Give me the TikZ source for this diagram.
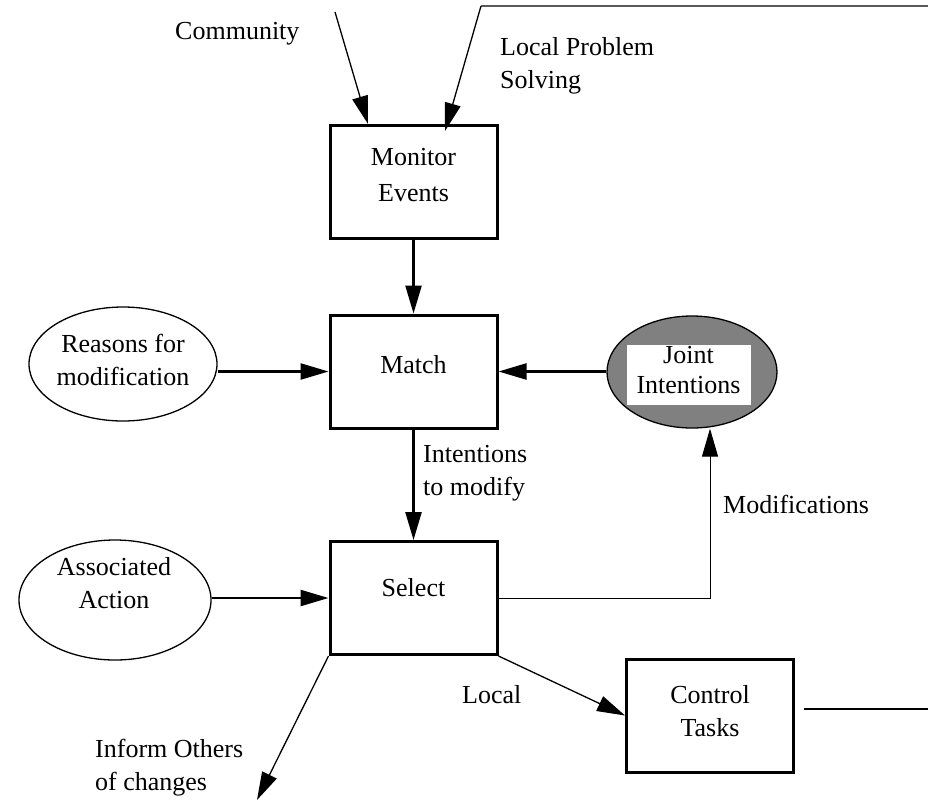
\documentclass[tikz,border=0pt]{standalone}
\usepackage{fontspec}
\setmainfont{Liberation Serif}
\usetikzlibrary{arrows.meta,shapes.geometric,calc}
\definecolor{jigray}{HTML}{808080}
\definecolor{topgray}{HTML}{5A5A5A}

\begin{document}
\begin{tikzpicture}[x=1pt,y=-1pt,
  txt/.style={font=\fontsize{26}{33}\selectfont, inner sep=0pt, align=left},
  ctxt/.style={txt, align=center},
  stepbox/.style={draw, line width=3pt, minimum width=167pt, minimum height=113pt, inner sep=0pt},
  oval/.style={ellipse, draw, line width=1.3pt, inner sep=0pt},
  tip/.style={-{Triangle[length=28pt,width=16pt]}},
  heavy/.style={tip, line width=2.4pt},
  light/.style={tip, line width=1.3pt},
]
\useasboundingbox (0,0) rectangle (928,801);

% process boxes (multi-line labels are anchored on their last baseline)
\node[stepbox] (monitor) at (413.5,182) {};
\node[ctxt, anchor=base] (monitorT) at (413.5,201) {Monitor\\[3pt]Events};
\node[stepbox] (match) at (413.5,371.5) {};
\node[ctxt, anchor=base] (matchT) at (413.5,373) {Match};
\node[stepbox] (select) at (413.5,598) {};
\node[ctxt, anchor=base] (selectT) at (413.5,596) {Select};
\node[stepbox] (control) at (710,715.5) {};
\node[ctxt, anchor=base] (controlT) at (710,736) {Control\\Tasks};

% input ovals
\node[oval, minimum width=188pt, minimum height=114pt] (reasons) at (123,364) {};
\node[ctxt, anchor=base] (reasonsT) at (123,385) {Reasons for\\modification};
\node[oval, minimum width=192pt, minimum height=120pt] (assoc) at (115,600) {};
\node[ctxt, anchor=base] (assocT) at (114,608) {Associated\\Action};

% joint intentions store
\node[oval, fill=jigray, minimum width=170pt, minimum height=112pt] (joint) at (692,372) {};
\node[fill=white, minimum width=124pt, minimum height=60pt, inner sep=0pt] (jointBox) at (689,375) {};
\node[ctxt, anchor=base, font=\fontsize{26}{30}\selectfont] (jointT) at (688.5,393) {Joint\\Intentions};

% free labels
\node[txt, anchor=base west] (community) at (175,39) {Community};
\node[txt, anchor=base west] (localps) at (500,88) {Local Problem\\Solving};
\node[txt, anchor=base west] (intmod) at (423,495) {Intentions\\to modify};
\node[txt, anchor=base west] (mods) at (723,513) {Modifications};
\node[txt, anchor=base west] (locallbl) at (462,703) {Local};
\node[txt, anchor=base west] (inform) at (95,790) {Inform Others\\of changes};

% loose ends
\coordinate (commSrc) at (335,12);
\coordinate (commTip) at (368,124);
\coordinate (lpsEnd) at (928,6);
\coordinate (lpsCorner) at (481,6);
\coordinate (lpsTip) at (445,131);
\coordinate (modCorner) at (710,598);
\coordinate (informTip) at (257,800);
\coordinate (ctrlEnd) at (928,709);

% connectors
\draw[light] (commSrc) -- (commTip);
\draw[line width=2.4pt, draw=topgray] (lpsEnd) -- (lpsCorner);
\draw[light] (lpsCorner) -- (lpsTip);
\draw[heavy] (monitor) -- (match);
\draw[heavy] (reasons.east |- match.west) -- (match.west);
\draw[heavy] (joint.west |- match.east) -- (match.east);
\draw[heavy] (match) -- (select);
\draw[heavy] (assoc.east |- select.west) -- (select.west);
\draw[light, line width=1pt] (select.east) -- (modCorner) -- (modCorner |- joint.south);
\draw[light] (select.south east) -- (control.west);
\draw[light] (select.south west) -- (informTip);
\draw[line width=2pt] ($(control.east |- ctrlEnd)+(9,0)$) -- (ctrlEnd);
\end{tikzpicture}
\end{document}
